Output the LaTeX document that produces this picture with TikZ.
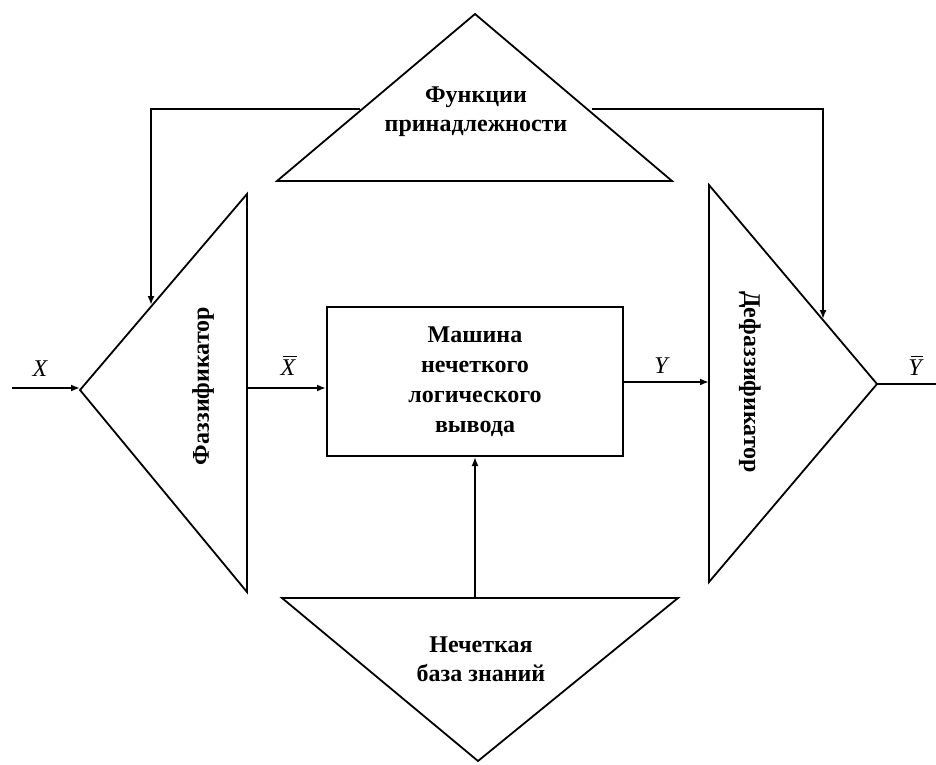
\documentclass[tikz,border=0pt]{standalone}
\usepackage{fontspec}
\setmainfont{Liberation Serif}
\usetikzlibrary{arrows.meta}
\begin{document}
\begin{tikzpicture}[x=1pt,y=-1pt,
  shape line/.style={line width=1.8pt, line join=miter},
  conn/.style={line width=1.8pt},
  arr/.style={conn,-{Latex[length=9pt,width=7pt]}},
  lbl/.style={font=\bfseries\fontsize{24}{29}\selectfont, align=center, inner sep=0pt},
  var/.style={font=\itshape\fontsize{24}{26}\selectfont, inner sep=0pt},
  barline/.style={line width=1.3pt}]
\useasboundingbox (0,0) rectangle (936,764);
% top triangle
\coordinate (tA) at (475,14);
\coordinate (tL) at (277,181);
\coordinate (tR) at (672,181);
\draw[shape line] (tA) -- (tR) -- (tL) -- cycle;
\node[lbl] (tT) at (476,112) {Функции\\принадлежности};
% left triangle
\coordinate (lT) at (247,194);
\coordinate (lB) at (247,592);
\coordinate (lA) at (80,390);
\draw[shape line] (lT) -- (lB) -- (lA) -- cycle;
\node[lbl, rotate=90] (lTx) at (203,386) {Фаззификатор};
% right triangle
\coordinate (rT) at (709,185);
\coordinate (rB) at (709,582);
\coordinate (rA) at (877,384);
\draw[shape line] (rT) -- (rB) -- (rA) -- cycle;
\node[lbl, rotate=-90] (rTx) at (750,382) {Дефаззификатор};
% bottom triangle
\coordinate (bL) at (282,598);
\coordinate (bR) at (678,598);
\coordinate (bA) at (478,761);
\draw[shape line] (bL) -- (bR) -- (bA) -- cycle;
\node[lbl] (bT) at (481,659) {Нечеткая\\база знаний};
% center box
\node[lbl, draw, line width=2pt, minimum width=296pt, minimum height=149pt, font=\bfseries\fontsize{24}{30}\selectfont] (box) at (475,381.5) {Машина\\нечеткого\\логического\\вывода};
% connectors
\coordinate (xin) at (12,388);
\coordinate (fo) at (247,388);
\coordinate (yout) at (936,384);
\draw[arr] (xin) -- (lA |- xin);
\draw[arr] (fo) -- (fo -| box.west);
\draw[arr] (box.east |- 0,382) -- (rT |- 0,382);
\draw[conn] (rA) -- (yout);
\coordinate (kb) at (475,598);
\draw[arr] (kb) -- (kb |- box.south);
\coordinate (fl) at (360,109);
\coordinate (fr) at (592,109);
\coordinate (lTip) at (151,305);
\coordinate (rTip) at (823,319);
\draw[arr] (fl) -- (lTip |- fl) -- (lTip);
\draw[arr] (fr) -- (rTip |- fr) -- (rTip);
% labels
\node[var] (lx) at (40,369) {X};
\node[var] (lxb) at (288,368) {X};
\draw[barline] ([xshift=3pt,yshift=3.5pt]lxb.north west) -- ([xshift=1pt,yshift=3.5pt]lxb.north east);
\node[var] (ly) at (661,366) {Y};
\node[var] (lyb) at (915,368) {Y};
\draw[barline] ([xshift=3pt,yshift=3.5pt]lyb.north west) -- ([xshift=1pt,yshift=3.5pt]lyb.north east);
\end{tikzpicture}
\end{document}
